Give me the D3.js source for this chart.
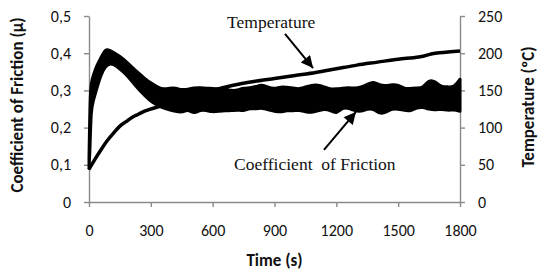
<!DOCTYPE html>
<html>
<head>
<meta charset="utf-8">
<script src="https://cdn.jsdelivr.net/npm/d3@7"></script>
<style>
  body { margin: 0; background: #fff; }
  svg { display: block; }
  .tick text { font-family: Calibri, Carlito, Lato, sans-serif; font-size: 16px; fill: #111; }
  .axis path, .axis line { stroke: #8a8a8a; stroke-width: 1.4; }
  .title { font-family: Calibri, Carlito, Lato, sans-serif; font-weight: bold; font-size: 17px; fill: #111; }
  .note { font-family: "Liberation Serif", "Times New Roman", serif; font-size: 17.5px; fill: #111; }
</style>
</head>
<body>
<div id="chart"></div>
<script>
// friction coefficient: envelope of the noisy trace (upper / lower edge)
var cofTime = [0, 5, 10, 20, 40, 60, 80, 100, 120, 150, 180, 210, 240, 270, 300, 330, 360, 390,
  420, 450, 480, 510, 540, 570, 600, 630, 660, 690, 720, 750, 780, 810, 840, 870, 900, 930, 960, 990,
  1020, 1050, 1080, 1110, 1140, 1170, 1200, 1230, 1260, 1290, 1320, 1350, 1380, 1410, 1440, 1470,
  1500, 1530, 1560, 1590, 1620, 1650, 1680, 1710, 1740, 1770, 1800];
var cofHigh = [0.12, 0.28, 0.32, 0.34, 0.37, 0.39, 0.412, 0.408, 0.402, 0.392, 0.378, 0.362, 0.347, 0.332, 0.320, 0.310, 0.303, 0.306,
  0.307, 0.301, 0.303, 0.307, 0.307, 0.306, 0.305, 0.304, 0.305, 0.299, 0.300, 0.307, 0.306, 0.310, 0.316, 0.308, 0.304, 0.310, 0.308, 0.307,
  0.303, 0.310, 0.314, 0.315, 0.310, 0.303, 0.304, 0.306, 0.308, 0.305, 0.309, 0.316, 0.324, 0.314, 0.312, 0.316,
  0.315, 0.304, 0.305, 0.307, 0.306, 0.329, 0.324, 0.309, 0.310, 0.308, 0.330];
var cofLow = [0.09, 0.14, 0.25, 0.27, 0.31, 0.345, 0.365, 0.372, 0.370, 0.358, 0.343, 0.323, 0.303, 0.286, 0.270, 0.260, 0.253, 0.248,
  0.244, 0.240, 0.250, 0.236, 0.248, 0.246, 0.242, 0.244, 0.246, 0.245, 0.248, 0.244, 0.252, 0.250, 0.253, 0.248, 0.244, 0.241, 0.246, 0.245,
  0.247, 0.242, 0.240, 0.245, 0.250, 0.247, 0.236, 0.254, 0.252, 0.245, 0.243, 0.250, 0.251, 0.237, 0.240, 0.251,
  0.250, 0.246, 0.244, 0.254, 0.255, 0.249, 0.247, 0.250, 0.246, 0.248, 0.244];

// temperature (right axis, degC)
var tempTime = [0, 30, 60, 90, 120, 150, 180, 210, 240, 270, 300, 360, 420, 480, 540, 600, 700, 800, 900,
  1000, 1100, 1200, 1300, 1400, 1500, 1600, 1630, 1660, 1700, 1800];
var tempValue = [44, 58, 71, 83, 93, 102, 108, 114, 118, 122, 125, 130, 135, 140, 145, 150, 157, 162, 166,
  170, 174, 179, 184, 188, 192, 195, 196.5, 199, 200.5, 203];

var timeTicks = [0, 300, 600, 900, 1200, 1500, 1800];
var cofTicks = [0, 0.1, 0.2, 0.3, 0.4, 0.5];
var tempTicks = [0, 50, 100, 150, 200, 250];

var width = 540, height = 273;
var margin = {left: 89, right: 80, top: 16, bottom: 71};

var svg = d3.select("#chart").append("svg")
    .attr("width", width)
    .attr("height", height);

var x = d3.scaleLinear().domain([0, 1800]).range([margin.left, width - margin.right]);
var yL = d3.scaleLinear().domain([0, 0.5]).range([height - margin.bottom, margin.top]);
var yR = d3.scaleLinear().domain([0, 250]).range([height - margin.bottom, margin.top]);

var comma = function(v) { return v === 0 ? "0" : v.toFixed(1).replace(".", ","); };

svg.append("g").attr("class", "axis")
    .attr("transform", "translate(0," + yL(0) + ")")
    .call(d3.axisBottom(x).tickValues(timeTicks).tickFormat(d3.format("d"))
        .tickSize(5).tickSizeOuter(0).tickPadding(18));

svg.append("g").attr("class", "axis")
    .attr("transform", "translate(" + x(0) + ",0)")
    .call(d3.axisLeft(yL).tickValues(cofTicks).tickFormat(comma).tickSize(5).tickSizeOuter(0).tickPadding(13));

svg.append("g").attr("class", "axis")
    .attr("transform", "translate(" + x(1800) + ",0)")
    .call(d3.axisRight(yR).tickValues(tempTicks).tickSize(5).tickSizeOuter(0).tickPadding(13));

svg.selectAll(".axis .tick text").attr("fill", null);

// friction trace drawn as filled band
var cof = cofTime.map(function(t, i) { return {t: t, hi: cofHigh[i], lo: cofLow[i]}; });
var band = d3.area()
    .x(function(d) { return x(d.t); })
    .y0(function(d) { return yL(d.lo); })
    .y1(function(d) { return yL(d.hi); })
    .curve(d3.curveBasis);

svg.append("path")
    .datum(cof)
    .attr("d", band)
    .attr("fill", "#000")
    .attr("stroke", "#000")
    .attr("stroke-width", 3)
    .attr("stroke-linejoin", "round");

var temp = tempTime.map(function(t, i) { return {t: t, v: tempValue[i]}; });
svg.append("path")
    .datum(temp)
    .attr("d", d3.line().x(d => x(d.t)).y(d => yR(d.v)).curve(d3.curveMonotoneX))
    .attr("fill", "none")
    .attr("stroke", "#000")
    .attr("stroke-width", 3.5);

// axis titles
svg.append("text").attr("class", "title")
    .attr("x", x(900)).attr("y", 266)
    .attr("text-anchor", "middle")
    .text("Time (s)");

svg.append("text").attr("class", "title")
    .attr("transform", "translate(23,105) rotate(-90)")
    .attr("text-anchor", "middle")
    .text("Coefficient of Friction (µ)");

svg.append("text").attr("class", "title")
    .attr("transform", "translate(534,107) rotate(-90)")
    .attr("text-anchor", "middle")
    .text("Temperature (ºC)");

// annotations
svg.append("defs").append("marker")
    .attr("id", "head")
    .attr("viewBox", "0 0 10 10")
    .attr("refX", 10).attr("refY", 5)
    .attr("markerUnits", "userSpaceOnUse")
    .attr("markerWidth", 15).attr("markerHeight", 12)
    .attr("orient", "auto")
  .append("path")
    .attr("d", "M0,0L10,5L0,10Z")
    .attr("fill", "#000");

svg.append("line")
    .attr("x1", x(951)).attr("y1", yR(226))
    .attr("x2", x(1087)).attr("y2", yR(180))
    .attr("stroke", "#000").attr("stroke-width", 2)
    .attr("marker-end", "url(#head)");

svg.append("line")
    .attr("x1", x(1140)).attr("y1", yL(0.14))
    .attr("x2", x(1295)).attr("y2", yL(0.242))
    .attr("stroke", "#000").attr("stroke-width", 2)
    .attr("marker-end", "url(#head)");

svg.append("text").attr("class", "note")
    .attr("x", x(670)).attr("y", yR(234))
    .text("Temperature");

svg.append("text").attr("class", "note")
    .attr("x", x(704)).attr("y", yL(0.086))
    .attr("xml:space", "preserve")
    .text("Coefficient  of Friction");
</script>
</body>
</html>
